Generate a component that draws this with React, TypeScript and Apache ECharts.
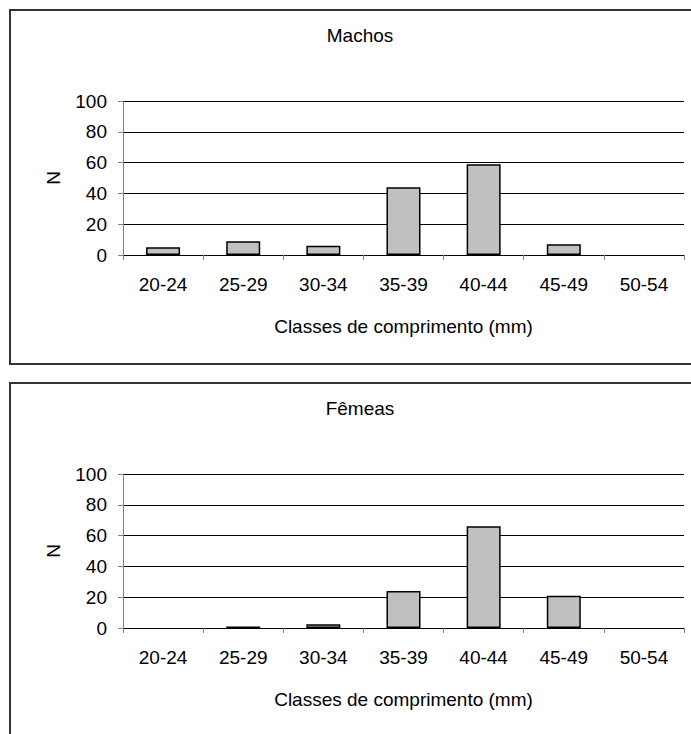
import React, { useEffect, useRef } from "react";
import * as echarts from "echarts";

const categories = ["20-24", "25-29", "30-34", "35-39", "40-44", "45-49", "50-54"];
const machos = [5, 9, 6, 44, 59, 7, 0];
const femeas = [0, 1, 2.5, 24, 66, 21, 0];
const panelTitles = ["Machos", "Fêmeas"];
const xAxisTitle = "Classes de comprimento (mm)";
const yAxisTitle = "N";

const FONT = "'Liberation Sans', Arial, sans-serif";
const FS = 19;
const OFFSET = 373;

export default function App() {
  const ref = useRef<HTMLDivElement>(null);
  useEffect(() => {
    if (!ref.current) return;
    const chart = echarts.init(ref.current, undefined, { renderer: "svg" });
    const seriesData = [machos, femeas];
    const grids: any[] = [];
    const xAxes: any[] = [];
    const yAxes: any[] = [];
    const series: any[] = [];
    const titles: any[] = [];
    const graphics: any[] = [];
    for (let i = 0; i < 2; i++) {
      const dy = i * OFFSET;
      grids.push({ left: 123, top: 101 + dy, width: 561, height: 154, containLabel: false });
      titles.push({
        text: panelTitles[i],
        left: 355,
        top: 21 + dy,
        textAlign: "center",
        textStyle: { fontFamily: FONT, fontSize: FS, fontWeight: "normal", color: "#000" },
      });
      xAxes.push({
        type: "category",
        gridIndex: i,
        data: categories,
        boundaryGap: true,
        name: xAxisTitle,
        nameLocation: "middle",
        nameGap: 62,
        nameTextStyle: { fontFamily: FONT, fontSize: FS, color: "#000" },
        axisLine: { show: true, lineStyle: { color: "#000", width: 1 } },
        axisTick: { show: true, length: 5, inside: false, lineStyle: { color: "#808080" } },
        axisLabel: { fontFamily: FONT, fontSize: FS, color: "#000", margin: 20, interval: 0 },
        splitLine: { show: false },
      });
      yAxes.push({
        type: "value",
        gridIndex: i,
        min: 0,
        max: 100,
        interval: 20,
        name: yAxisTitle,
        nameLocation: "middle",
        nameGap: 60,
        nameRotate: 90,
        nameTextStyle: { fontFamily: FONT, fontSize: FS, color: "#000" },
        axisLine: { show: true, lineStyle: { color: "#808080", width: 1 } },
        axisTick: { show: true, length: 5, inside: false, lineStyle: { color: "#808080" } },
        axisLabel: { fontFamily: FONT, fontSize: FS, color: "#000", margin: 16 },
        splitLine: { show: true, lineStyle: { color: "#000", width: 1 } },
      });
      series.push({
        type: "bar",
        xAxisIndex: i,
        yAxisIndex: i,
        data: seriesData[i].map((v) => (v === 0 ? null : v)),
        barWidth: 34,
        itemStyle: { color: "#c0c0c0", borderColor: "#000", borderWidth: 1.5 },
        silent: true,
      });
      graphics.push({
        type: "rect",
        shape: { x: 10, y: 10 + dy, width: 720, height: 354 },
        style: { fill: "none", stroke: "#333", lineWidth: 2 },
        silent: true,
      });
    }
    chart.setOption({
      animation: false,
      backgroundColor: "#fff",
      title: titles,
      grid: grids,
      xAxis: xAxes,
      yAxis: yAxes,
      series,
      graphic: graphics,
    });
    return () => chart.dispose();
  }, []);
  return (
    <div
      ref={ref}
      style={{ position: "absolute", left: 0, top: 0, width: 691, height: 734, background: "#fff" }}
    />
  );
}
